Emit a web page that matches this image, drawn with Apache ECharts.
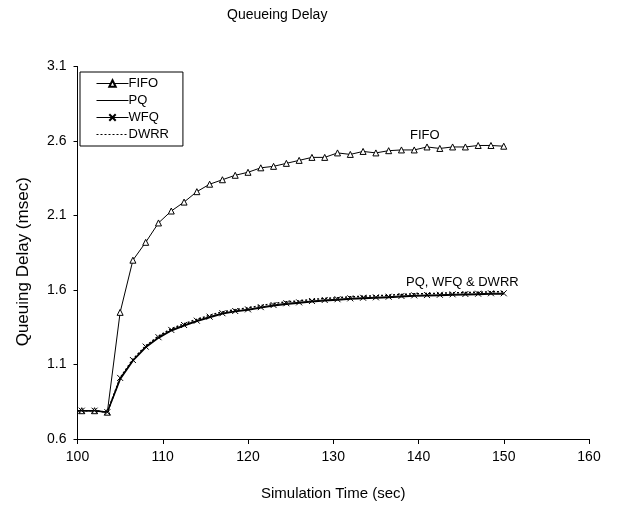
<!DOCTYPE html>
<html>
<head>
<meta charset="utf-8">
<script src="https://cdn.jsdelivr.net/npm/echarts@6/dist/echarts.min.js"></script>
<style>
html,body{margin:0;padding:0;background:#fff;}
#chart{width:617px;height:508px;}
</style>
</head>
<body>
<div id="chart"></div>
<script>
// ---- data ----
var times = [100, 100.5, 102, 103.5, 105, 106.5, 108, 109.5, 111, 112.5, 114, 115.5, 117, 118.5, 120,
  121.5, 123, 124.5, 126, 127.5, 129, 130.5, 132, 133.5, 135, 136.5, 138, 139.5, 141, 142.5, 144, 145.5, 147, 148.5, 150];
var fifo = [0.79, 0.79, 0.79, 0.78, 1.45, 1.80, 1.92, 2.05, 2.13, 2.19, 2.26, 2.31, 2.34, 2.37, 2.39,
  2.42, 2.43, 2.45, 2.47, 2.49, 2.49, 2.52, 2.51, 2.53, 2.52, 2.535, 2.54, 2.54, 2.56, 2.55, 2.56, 2.56, 2.57, 2.57, 2.565];
var pq = [0.79, 0.79, 0.79, 0.78, 1.00, 1.125, 1.215, 1.278, 1.327, 1.36, 1.39, 1.415, 1.44, 1.455, 1.466,
  1.48, 1.494, 1.505, 1.512, 1.521, 1.528, 1.533, 1.539, 1.543, 1.546, 1.55, 1.555, 1.559, 1.561, 1.563, 1.566, 1.568, 1.57, 1.573, 1.573];
var wfq = [0.79, 0.79, 0.79, 0.78, 1.01, 1.13, 1.22, 1.283, 1.332, 1.365, 1.394, 1.421, 1.444, 1.459, 1.47,
  1.485, 1.499, 1.511, 1.517, 1.526, 1.533, 1.538, 1.544, 1.548, 1.551, 1.555, 1.56, 1.564, 1.566, 1.568, 1.571, 1.573, 1.575, 1.578, 1.578];
var dwrr = [0.79, 0.79, 0.79, 0.78, 1.01, 1.135, 1.225, 1.29, 1.34, 1.373, 1.403, 1.43, 1.453, 1.468, 1.48,
  1.495, 1.509, 1.521, 1.527, 1.536, 1.543, 1.548, 1.554, 1.558, 1.561, 1.565, 1.57, 1.574, 1.576, 1.578, 1.581, 1.583, 1.585, 1.588, 1.588];
var xTicks = [100, 110, 120, 130, 140, 150, 160];
var yTicks = [0.6, 1.1, 1.6, 2.1, 2.6, 3.1];
var seriesNames = ['FIFO', 'PQ', 'WFQ', 'DWRR'];

// first sample (t=100) carries the line to the axis without a marker
function pairs(arr) {
  return times.map(function (t, i) {
    return i === 0 ? { value: [t, arr[i]], symbol: 'none' } : [t, arr[i]];
  });
}
var crossPath = 'path://M0,0L10,10M10,0L0,10';
var FONT = 'Liberation Sans, Arial, sans-serif';
var NONE = 'rgba(0,0,0,0)';

var chart = echarts.init(document.getElementById('chart'), null, { renderer: 'canvas' });
chart.setOption({
  backgroundColor: '#fff',
  animation: false,
  textStyle: { fontFamily: FONT, color: '#000' },
  title: {
    text: 'Queueing Delay',
    left: 227, top: 8,
    textStyle: { fontFamily: FONT, fontSize: 14, fontWeight: 'normal', color: '#000' },
    padding: 0
  },
  grid: { left: 77.5, right: 28, top: 66.5, bottom: 69, containLabel: false },
  legend: {
    orient: 'vertical',
    left: 80, top: 72,
    padding: [3, 14, 3, 16],
    itemGap: 0,
    itemWidth: 32, itemHeight: 8,
    borderColor: '#000', borderWidth: 1, borderRadius: 0,
    backgroundColor: '#fff',
    lineStyle: { width: 1 },
    textStyle: { fontFamily: FONT, fontSize: 13, color: '#000', lineHeight: 17, padding: [0, 0, 0, -5] },
    data: seriesNames
  },
  xAxis: {
    type: 'value', min: xTicks[0], max: xTicks[xTicks.length - 1], interval: 10,
    name: 'Simulation Time (sec)', nameLocation: 'middle', nameGap: 47,
    nameTextStyle: { fontFamily: FONT, fontSize: 15, color: '#000' },
    axisLine: { lineStyle: { color: '#000', width: 1 } },
    axisTick: { show: true, inside: false, length: 5, lineStyle: { color: '#000' } },
    axisLabel: { fontFamily: FONT, fontSize: 14, color: '#000', margin: 11 },
    splitLine: { show: false }
  },
  yAxis: {
    type: 'value', min: yTicks[0], max: yTicks[yTicks.length - 1], interval: 0.5,
    name: 'Queuing Delay (msec)', nameLocation: 'middle', nameGap: 46, nameRotate: 90,
    nameTextStyle: { fontFamily: FONT, fontSize: 17, color: '#000', padding: [0, 18, 0, 0] },
    axisLine: { show: true, lineStyle: { color: '#000', width: 1 } },
    axisTick: { show: true, inside: false, length: 4, lineStyle: { color: '#000' } },
    axisLabel: { fontFamily: FONT, fontSize: 14, color: '#000', margin: 11,
      formatter: function (v) { return v.toFixed(1); } },
    splitLine: { show: false }
  },
  series: [
    {
      name: seriesNames[0], type: 'line', data: pairs(fifo),
      symbol: 'triangle', symbolSize: 6, showAllSymbol: true,
      lineStyle: { color: '#000', width: 1 },
      itemStyle: { color: '#fff', borderColor: '#000', borderWidth: 1 },
      z: 3
    },
    {
      name: seriesNames[1], type: 'line', data: pairs(pq),
      symbol: 'none',
      lineStyle: { color: '#000', width: 1.5 },
      itemStyle: { color: NONE, borderColor: NONE, borderWidth: 0 },
      z: 2
    },
    {
      name: seriesNames[2], type: 'line', data: pairs(wfq),
      symbol: crossPath, symbolSize: 6, showAllSymbol: true,
      lineStyle: { color: '#000', width: 1 },
      itemStyle: { color: NONE, borderColor: '#000', borderWidth: 1 },
      z: 4
    },
    {
      name: seriesNames[3], type: 'line', data: pairs(dwrr),
      symbol: 'none',
      lineStyle: { color: '#000', width: 1.5, type: [2, 2] },
      itemStyle: { color: NONE, borderColor: NONE, borderWidth: 0 },
      z: 2
    }
  ],
  graphic: [
    { type: 'text', left: 410, top: 129, style: { text: 'FIFO', font: '13px ' + FONT, fill: '#000' } },
    { type: 'text', left: 406, top: 276, style: { text: 'PQ, WFQ & DWRR', font: '13px ' + FONT, fill: '#000' } }
  ]
});
</script>
</body>
</html>
